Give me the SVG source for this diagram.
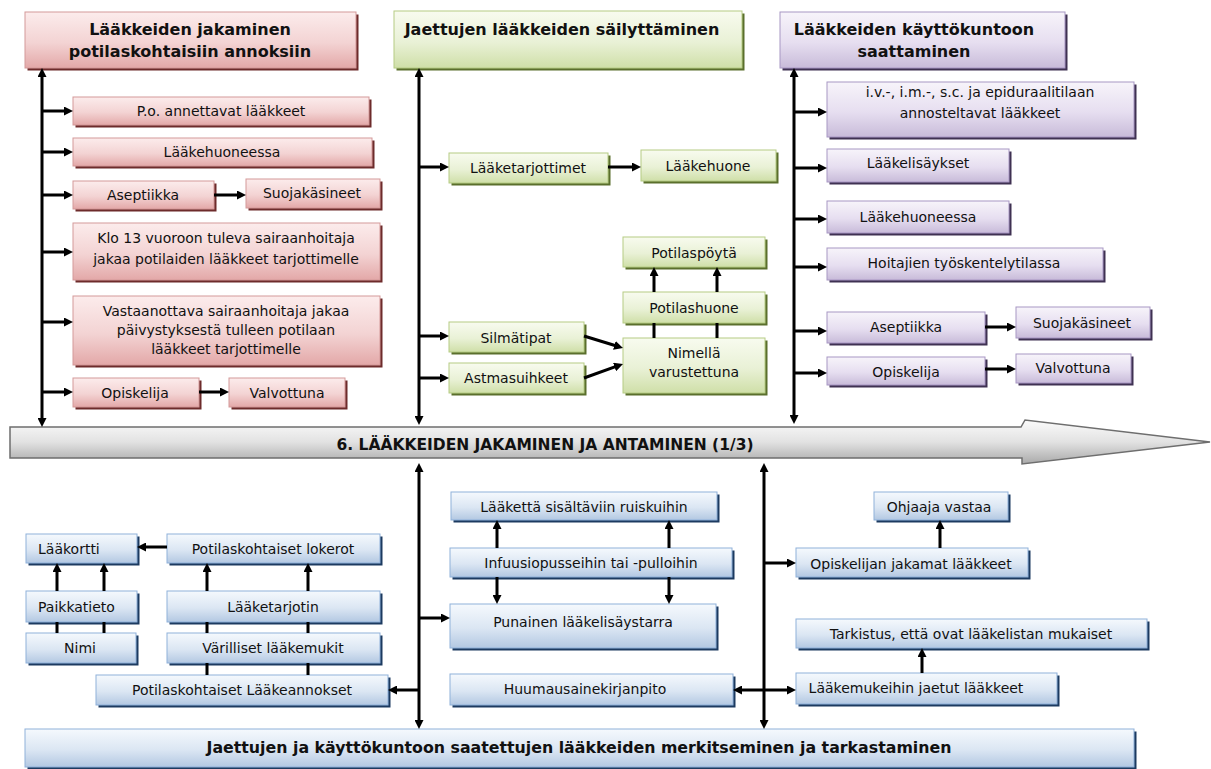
<svg xmlns="http://www.w3.org/2000/svg" width="1211" height="769" viewBox="0 0 1211 769">
<defs>
<linearGradient id="gR" x1="0" y1="0" x2="0" y2="1"><stop offset="0" stop-color="#fcecec"/><stop offset="0.55" stop-color="#f3d3d3"/><stop offset="1" stop-color="#e3a8a8"/></linearGradient>
<linearGradient id="gG" x1="0" y1="0" x2="0" y2="1"><stop offset="0" stop-color="#f8fbef"/><stop offset="0.55" stop-color="#e9f1d6"/><stop offset="1" stop-color="#cfdfa8"/></linearGradient>
<linearGradient id="gP" x1="0" y1="0" x2="0" y2="1"><stop offset="0" stop-color="#f7f4fa"/><stop offset="0.55" stop-color="#e6def0"/><stop offset="1" stop-color="#c8bbd9"/></linearGradient>
<linearGradient id="gB" x1="0" y1="0" x2="0" y2="1"><stop offset="0" stop-color="#f5f9fd"/><stop offset="0.55" stop-color="#dbe6f3"/><stop offset="1" stop-color="#b3c8e2"/></linearGradient>
<linearGradient id="gA" x1="0" y1="0" x2="0" y2="1"><stop offset="0" stop-color="#fbfbfb"/><stop offset="0.5" stop-color="#e2e2e2"/><stop offset="1" stop-color="#a9a9a9"/></linearGradient>
<marker id="ah" viewBox="0 0 9 9" refX="4" refY="4.5" markerWidth="9" markerHeight="9" markerUnits="userSpaceOnUse" orient="auto-start-reverse"><path d="M0,0 L9,4.5 L0,9 z" fill="#000"/></marker>
<style>
.r{fill:url(#gR);stroke:#d49999;stroke-width:1}
.rs{fill:#6d2b2b}
.g{fill:url(#gG);stroke:#b6cc84;stroke-width:1}
.gs{fill:#5a6f2c}
.p{fill:url(#gP);stroke:#a897c4;stroke-width:1}
.ps{fill:#3f3152}
.b{fill:url(#gB);stroke:#8fb1da;stroke-width:1}
.bs{fill:#1c3a60}
text{font-family:"DejaVu Sans","Liberation Sans",sans-serif;fill:#111}
.t{font-size:14px;text-anchor:middle}
.ts{font-size:14px;text-anchor:start}
.h{font-size:16px;font-weight:bold;text-anchor:middle}
.c{fill:none;stroke:#000;stroke-width:3}
.a{marker-end:url(#ah)}
.aa{marker-start:url(#ah);marker-end:url(#ah)}
</style>
</defs>

<!-- main arrow -->
<g id="main-arrow">
<path d="M10,427 H1021 L1025,420 L1210,442 L1022,464 L1022,458 H10 Z" fill="url(#gA)" stroke="#6e6e6e" stroke-width="1.5"/>
<text class="h" x="545" y="450" style="font-size:15.5px">6. LÄÄKKEIDEN JAKAMINEN JA ANTAMINEN (1/3)</text>
</g>

<!-- red column -->
<g id="r-head"><rect class="rs" x="27.5" y="14.5" width="331" height="56"/><rect class="r" x="25" y="12" width="331" height="56"/><text class="h" x="190" y="35">Lääkkeiden jakaminen</text><text class="h" x="190" y="57">potilaskohtaisiin annoksiin</text></g>
<g id="r-po"><rect class="rs" x="75.5" y="99.5" width="296" height="28"/><rect class="r" x="73" y="97" width="296" height="28"/><text class="t" x="221" y="116">P.o. annettavat lääkkeet</text></g>
<g id="r-laakehuoneessa"><rect class="rs" x="75.5" y="140.5" width="299" height="28"/><rect class="r" x="73" y="138" width="299" height="28"/><text class="t" x="222" y="157">Lääkehuoneessa</text></g>
<g id="r-aseptiikka"><rect class="rs" x="75.5" y="183.5" width="141" height="28"/><rect class="r" x="73" y="181" width="141" height="28"/><text class="t" x="143" y="200">Aseptiikka</text></g>
<g id="r-suoja"><rect class="rs" x="248.5" y="181.5" width="134" height="29"/><rect class="r" x="246" y="179" width="134" height="29"/><text class="t" x="312" y="198">Suojakäsineet</text></g>
<g id="r-klo13"><rect class="rs" x="75.5" y="225.5" width="307" height="57"/><rect class="r" x="73" y="223" width="307" height="57"/><text class="t" x="226" y="243">Klo 13 vuoroon tuleva sairaanhoitaja</text><text class="t" x="226" y="264">jakaa potilaiden lääkkeet tarjottimelle</text></g>
<g id="r-vastaanottava"><rect class="rs" x="75.5" y="298.5" width="307" height="69"/><rect class="r" x="73" y="296" width="307" height="69"/><text class="t" x="226" y="316">Vastaanottava sairaanhoitaja jakaa</text><text class="t" x="226" y="335">päivystyksestä tulleen potilaan</text><text class="t" x="226" y="354">lääkkeet tarjottimelle</text></g>
<g id="r-opiskelija"><rect class="rs" x="75.5" y="380.5" width="126" height="29"/><rect class="r" x="73" y="378" width="126" height="29"/><text class="t" x="135" y="398">Opiskelija</text></g>
<g id="r-valvottuna"><rect class="rs" x="231.5" y="380.5" width="116" height="29"/><rect class="r" x="229" y="378" width="116" height="29"/><text class="t" x="287" y="398">Valvottuna</text></g>

<!-- green column -->
<g id="g-head"><rect class="gs" x="396.5" y="13.5" width="348" height="57"/><rect class="g" x="394" y="11" width="348" height="57"/><text class="h" x="562" y="35">Jaettujen lääkkeiden säilyttäminen</text></g>
<g id="g-tarjottimet"><rect class="gs" x="451.5" y="155.5" width="159" height="30"/><rect class="g" x="449" y="153" width="159" height="30"/><text class="t" x="528" y="173">Lääketarjottimet</text></g>
<g id="g-laakehuone"><rect class="gs" x="643.5" y="152.5" width="135" height="31"/><rect class="g" x="641" y="150" width="135" height="31"/><text class="t" x="708" y="171">Lääkehuone</text></g>
<g id="g-potilaspoyta"><rect class="gs" x="625.5" y="239.5" width="142" height="30"/><rect class="g" x="623" y="237" width="142" height="30"/><text class="t" x="694" y="258">Potilaspöytä</text></g>
<g id="g-potilashuone"><rect class="gs" x="625.5" y="294.5" width="142" height="31"/><rect class="g" x="623" y="292" width="142" height="31"/><text class="t" x="694" y="313">Potilashuone</text></g>
<g id="g-silmatipat"><rect class="gs" x="451.5" y="324.5" width="135" height="30"/><rect class="g" x="449" y="322" width="135" height="30"/><text class="t" x="516" y="343">Silmätipat</text></g>
<g id="g-astma"><rect class="gs" x="451.5" y="365.5" width="135" height="30"/><rect class="g" x="449" y="363" width="135" height="30"/><text class="t" x="516" y="383">Astmasuihkeet</text></g>
<g id="g-nimella"><rect class="gs" x="625.5" y="340.5" width="142" height="55"/><rect class="g" x="623" y="338" width="142" height="55"/><text class="t" x="694" y="358">Nimellä</text><text class="t" x="694" y="377">varustettuna</text></g>

<!-- purple column -->
<g id="p-head"><rect class="ps" x="782.5" y="14.5" width="285" height="56"/><rect class="p" x="780" y="12" width="285" height="56"/><text class="h" x="914" y="35">Lääkkeiden käyttökuntoon</text><text class="h" x="914" y="57">saattaminen</text></g>
<g id="p-iv"><rect class="ps" x="829.5" y="84.5" width="307" height="55"/><rect class="p" x="827" y="82" width="307" height="55"/><text class="t" x="980" y="97">i.v.-, i.m.-, s.c. ja epiduraalitilaan</text><text class="t" x="980" y="118">annosteltavat lääkkeet</text></g>
<g id="p-lisaykset"><rect class="ps" x="829.5" y="151.5" width="182" height="33"/><rect class="p" x="827" y="149" width="182" height="33"/><text class="t" x="918" y="168">Lääkelisäykset</text></g>
<g id="p-laakehuoneessa"><rect class="ps" x="829.5" y="203.5" width="182" height="32"/><rect class="p" x="827" y="201" width="182" height="32"/><text class="t" x="918" y="222">Lääkehuoneessa</text></g>
<g id="p-hoitajien"><rect class="ps" x="829.5" y="250.5" width="276" height="32"/><rect class="p" x="827" y="248" width="276" height="32"/><text class="t" x="964" y="268">Hoitajien työskentelytilassa</text></g>
<g id="p-aseptiikka"><rect class="ps" x="829.5" y="314.5" width="158" height="31"/><rect class="p" x="827" y="312" width="158" height="31"/><text class="t" x="906" y="332">Aseptiikka</text></g>
<g id="p-suoja"><rect class="ps" x="1018.5" y="309.5" width="134" height="31"/><rect class="p" x="1016" y="307" width="134" height="31"/><text class="t" x="1082" y="328">Suojakäsineet</text></g>
<g id="p-opiskelija"><rect class="ps" x="829.5" y="359.5" width="158" height="28"/><rect class="p" x="827" y="357" width="158" height="28"/><text class="t" x="906" y="377">Opiskelija</text></g>
<g id="p-valvottuna"><rect class="ps" x="1018.5" y="356.5" width="115" height="29"/><rect class="p" x="1016" y="354" width="115" height="29"/><text class="t" x="1073" y="373">Valvottuna</text></g>

<!-- blue lower part -->
<g id="b-laakortti"><rect class="bs" x="28.5" y="536.5" width="111" height="29"/><rect class="b" x="26" y="534" width="111" height="29"/><text class="ts" x="38" y="554">Lääkortti</text></g>
<g id="b-lokerot"><rect class="bs" x="169.5" y="536.5" width="213" height="29"/><rect class="b" x="167" y="534" width="213" height="29"/><text class="t" x="273" y="554">Potilaskohtaiset lokerot</text></g>
<g id="b-paikkatieto"><rect class="bs" x="28.5" y="593.5" width="111" height="31"/><rect class="b" x="26" y="591" width="111" height="31"/><text class="ts" x="38" y="612">Paikkatieto</text></g>
<g id="b-laaketarjotin"><rect class="bs" x="169.5" y="593.5" width="213" height="31"/><rect class="b" x="167" y="591" width="213" height="31"/><text class="t" x="273" y="612">Lääketarjotin</text></g>
<g id="b-nimi"><rect class="bs" x="28.5" y="635.5" width="110" height="30"/><rect class="b" x="26" y="633" width="110" height="30"/><text class="t" x="80" y="653">Nimi</text></g>
<g id="b-varilliset"><rect class="bs" x="169.5" y="635.5" width="213" height="30"/><rect class="b" x="167" y="633" width="213" height="30"/><text class="t" x="273" y="653">Värilliset lääkemukit</text></g>
<g id="b-annokset"><rect class="bs" x="98.5" y="677.5" width="292" height="30"/><rect class="b" x="96" y="675" width="292" height="30"/><text class="t" x="242" y="695">Potilaskohtaiset Lääkeannokset</text></g>
<g id="b-ruiskut"><rect class="bs" x="453.5" y="494.5" width="266" height="28"/><rect class="b" x="451" y="492" width="266" height="28"/><text class="t" x="584" y="512">Lääkettä sisältäviin ruiskuihin</text></g>
<g id="b-infuusio"><rect class="bs" x="452.5" y="550.5" width="282" height="29"/><rect class="b" x="450" y="548" width="282" height="29"/><text class="t" x="591" y="568">Infuusiopusseihin tai -pulloihin</text></g>
<g id="b-punainen"><rect class="bs" x="452.5" y="606.5" width="266" height="44"/><rect class="b" x="450" y="604" width="266" height="44"/><text class="t" x="583" y="627">Punainen lääkelisäystarra</text></g>
<g id="b-huumausaine"><rect class="bs" x="452.5" y="676.5" width="283" height="31"/><rect class="b" x="450" y="674" width="283" height="31"/><text class="t" x="585" y="694">Huumausainekirjanpito</text></g>
<g id="b-ohjaaja"><rect class="bs" x="876.5" y="494.5" width="134" height="28"/><rect class="b" x="874" y="492" width="134" height="28"/><text class="t" x="939" y="512">Ohjaaja vastaa</text></g>
<g id="b-opiskelijan"><rect class="bs" x="798.5" y="550.5" width="232" height="29"/><rect class="b" x="796" y="548" width="232" height="29"/><text class="t" x="911" y="569">Opiskelijan jakamat lääkkeet</text></g>
<g id="b-tarkistus"><rect class="bs" x="798.5" y="621.5" width="351" height="29"/><rect class="b" x="796" y="619" width="351" height="29"/><text class="t" x="971" y="639">Tarkistus, että ovat lääkelistan mukaiset</text></g>
<g id="b-laakemukeihin"><rect class="bs" x="798.5" y="675.5" width="261" height="31"/><rect class="b" x="796" y="673" width="261" height="31"/><text class="t" x="916" y="693">Lääkemukeihin jaetut lääkkeet</text></g>
<g id="b-bottom"><rect class="bs" x="27.5" y="731.5" width="1109" height="38"/><rect class="b" x="25" y="729" width="1109" height="38"/><text class="h" x="579" y="753" style="font-size:15.8px">Jaettujen ja käyttökuntoon saatettujen lääkkeiden merkitseminen ja tarkastaminen</text></g>

<!-- connectors -->
<g id="connectors">
<path class="c aa" d="M42,73 V422"/>
<path class="c a" d="M42,111 H68"/>
<path class="c a" d="M42,152 H68"/>
<path class="c a" d="M42,195 H68"/>
<path class="c a" d="M42,252 H68"/>
<path class="c a" d="M42,322 H68"/>
<path class="c a" d="M42,392 H68"/>
<path class="c a" d="M214,195 H241"/>
<path class="c a" d="M199,392 H224"/>

<path class="c aa" d="M419,73 V420"/>
<path class="c a" d="M419,167 H444"/>
<path class="c a" d="M419,336 H444"/>
<path class="c a" d="M419,378 H444"/>
<path class="c a" d="M608,167 H636"/>
<path class="c a" d="M584,336 L618.2,346.5"/>
<path class="c a" d="M584,378 L618.3,365.7"/>
<path class="c" d="M654,338 V323 M717,338 V323"/>
<path class="c a" d="M654,292 V272"/>
<path class="c a" d="M717,292 V272"/>

<path class="c aa" d="M794,73 V419"/>
<path class="c a" d="M794,112 H822"/>
<path class="c a" d="M794,168 H822"/>
<path class="c a" d="M794,219 H822"/>
<path class="c a" d="M794,267 H822"/>
<path class="c a" d="M794,331 H822"/>
<path class="c a" d="M794,373 H822"/>
<path class="c a" d="M985,327 H1011"/>
<path class="c a" d="M985,369 H1011"/>

<path class="c aa" d="M419,468 V724"/>
<path class="c a" d="M419,618 H445"/>
<path class="c a" d="M419,690 H393"/>
<path class="c a" d="M497,548 V525"/>
<path class="c a" d="M669,548 V525"/>
<path class="c a" d="M497,577 V599"/>
<path class="c a" d="M669,577 V599"/>
<path class="c aa" d="M764,468 V724"/>
<path class="c a" d="M764,563 H791"/>
<path class="c aa" d="M738,690 H791"/>
<path class="c a" d="M940,548 V525"/>
<path class="c a" d="M922,673 V653"/>
<path class="c a" d="M167,547 H142"/>
<path class="c a" d="M57,591 V568"/>
<path class="c a" d="M104,591 V568"/>
<path class="c a" d="M207,591 V568"/>
<path class="c a" d="M308,591 V568"/>
<path class="c" d="M57,633 V622 M104,633 V622 M207,633 V622 M308,633 V622 M207,675 V663 M308,675 V663"/>
</g>
</svg>
